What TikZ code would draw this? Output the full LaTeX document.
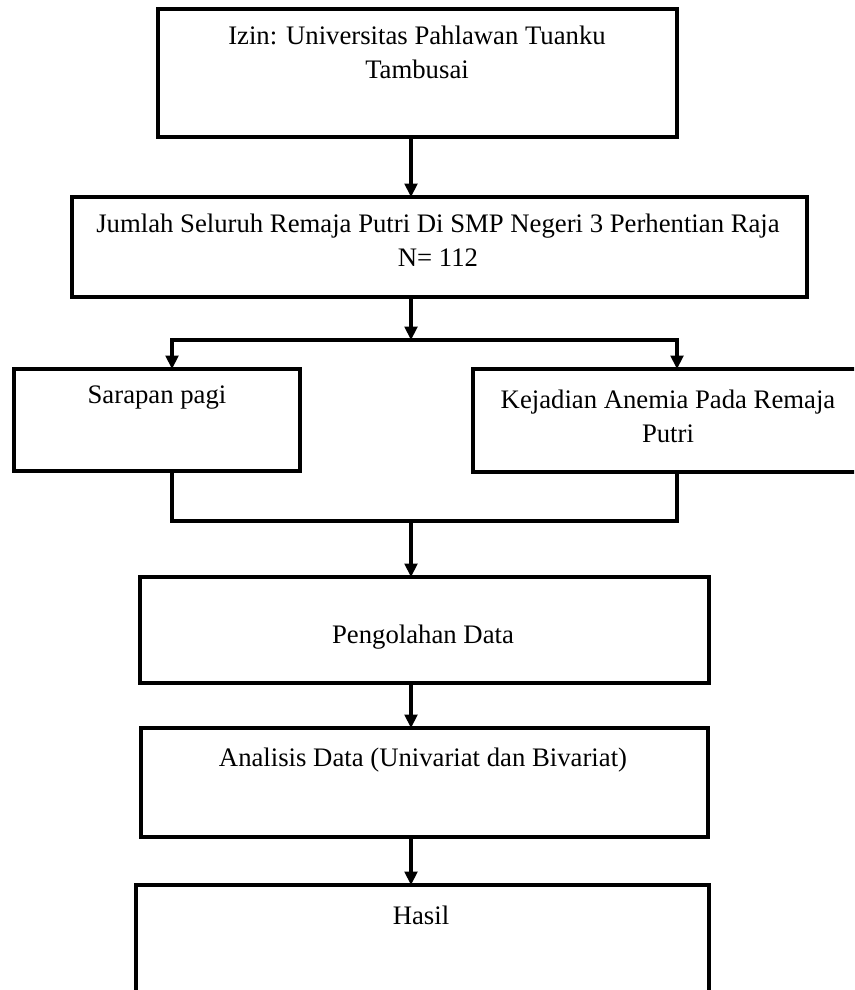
\documentclass[tikz,border=0pt]{standalone}
\usepackage{fontspec}
\setmainfont{Liberation Serif}
\usetikzlibrary{arrows.meta}
\begin{document}
\begin{tikzpicture}[x=0.025cm,y=-0.025cm,
  box/.style={draw=black,line width=2.3pt,rectangle,inner sep=0pt,outer sep=0pt},
  txt/.style={align=center,inner sep=0pt,font=\fontsize{19}{24}\selectfont},
  conn/.style={line width=2.2pt,line join=miter},
  arr/.style={conn,-{Triangle[width=9pt,length=9.5pt]}}]
\useasboundingbox (0,0) rectangle (854,990);
\clip (0,0) rectangle (854,990);
% boxes
\node[box,minimum width=12.975cm,minimum height=3.2cm] (b1) at (417.5,73) {};
\node[box,minimum width=18.375cm,minimum height=2.5cm] (b2) at (439.5,247) {};
\node[box,minimum width=7.15cm,minimum height=2.55cm] (b3) at (157,420) {};
\node[box,minimum width=9.75cm,minimum height=2.575cm] (b4) at (668,420.5) {};
\node[box,minimum width=14.225cm,minimum height=2.65cm] (b5) at (424.5,630) {};
\node[box,minimum width=14.175cm,minimum height=2.725cm] (b6) at (424.5,782.5) {};
\node[box,minimum width=14.325cm,minimum height=3.0cm] (b7) at (422.5,945) {};
% texts
\node[txt] (t1) at (417,52) {Izin: Universitas Pahlawan Tuanku\\Tambusai};
\node[txt] (t2) at (438,240) {Jumlah Seluruh Remaja Putri Di SMP Negeri 3 Perhentian Raja\\N= 112};
\node[txt] (t3) at (157,398) {Sarapan pagi};
\node[txt] (t4) at (668,416) {Kejadian Anemia Pada Remaja\\Putri};
\node[txt] (t5) at (423,637) {Pengolahan Data};
\node[txt] (t6) at (423,760) {Analisis Data (Univariat dan Bivariat)};
\node[txt] (t7) at (421,915) {Hasil};
% connector coordinates
\coordinate (cx) at (411,0);
\coordinate (j1) at (411,340);
\coordinate (jl) at (172,340);
\coordinate (jr) at (677,340);
\coordinate (ml) at (172,521);
\coordinate (mr) at (677,521);
% connectors
\draw[arr] (b1.south -| cx) -- (b2.north -| cx);
\draw[arr] (b2.south -| cx) -- (j1);
\draw[arr] (j1) -| (b3.north -| jl);
\draw[arr] (j1) -| (b4.north -| jr);
\draw[conn] (b3.south -| ml) -- (ml) -- (mr) -- (b4.south -| mr);
\draw[arr] (ml -| cx) -- (b5.north -| cx);
\draw[arr] (b5.south -| cx) -- (b6.north -| cx);
\draw[arr] (b6.south -| cx) -- (b7.north -| cx);
\end{tikzpicture}
\end{document}
